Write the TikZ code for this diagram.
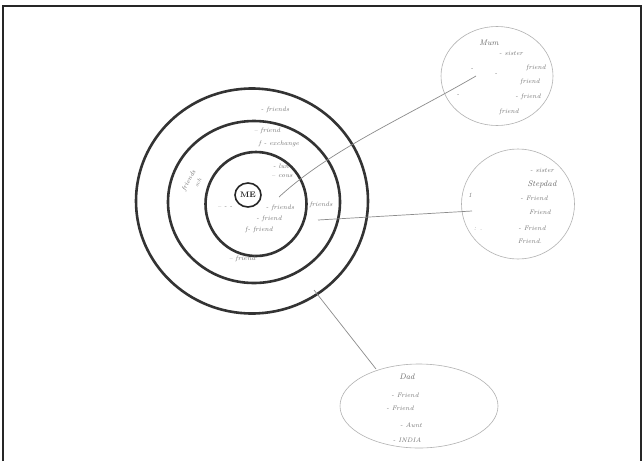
\documentclass[tikz,border=0pt]{standalone}
\usetikzlibrary{shapes.geometric}
\begin{document}
\begin{tikzpicture}[x=1pt,y=-1pt,
  ring/.style={draw=black!80, line width=2.6pt, ellipse, inner sep=0pt},
  bubble/.style={draw=black!30, line width=0.6pt, ellipse, inner sep=0pt},
  link/.style={draw=black!45, line width=0.7pt},
  hw/.style={text=black!55, font=\fontsize{6.5}{7}\selectfont\itshape, inner sep=0.5pt},
  hwb/.style={text=black!60, font=\fontsize{8}{9}\selectfont\itshape, inner sep=0.5pt}]
\useasboundingbox (0,0) rectangle (644,461);
\fill[white] (0,0) rectangle (644,461);
% frame
\draw[black!85, line width=2pt] (3,461) -- (3,6) -- (641,6) -- (641,461);
% rings
\node[ring, minimum width=232pt, minimum height=225pt] (outer) at (252,201) {};
\node[ring, minimum width=172pt, minimum height=162pt] (middle) at (254,202) {};
\node[ring, minimum width=101pt, minimum height=104pt] (inner) at (256,204) {};
\node[draw=black!85, line width=1.6pt, ellipse, minimum width=26pt, minimum height=24pt, inner sep=0pt,
      font=\fontsize{8}{9}\selectfont\bfseries, text=black!85] (me) at (248,195) {ME};
% outer bubbles
\node[bubble, minimum width=112pt, minimum height=99pt] (mum) at (497,76) {};
\node[bubble, minimum width=113pt, minimum height=110pt] (sis) at (518,204) {};
\node[bubble, minimum width=158pt, minimum height=84pt] (dad) at (419,406) {};
% connectors
\coordinate (mumS) at (279,197);
\coordinate (mumE) at (476,76);
\coordinate (sisS) at (318,220);
\coordinate (sisE) at (472,211);
\coordinate (dadS) at (314,290);
\coordinate (dadE) at (376,369);
\draw[link] (mumS) .. controls (330,150) and (400,120) .. (mumE);
\draw[link] (sisS) -- (sisE);
\draw[link] (dadS) -- (dadE);
% ring texts
\node[hw] (t1) at (275,110) {- friends};
\node[hw] (t2) at (267,131) {-- friend};
\node[hw] (t3) at (279,144) {f - exchange};
\node[hw, rotate=62] (t4) at (189,181) {friends};
\node[hw, rotate=62, font=\fontsize{5.5}{6}\selectfont\itshape] (t4b) at (198,183) {sch};
\node[hw] (t5) at (281,166) {- lun};
\node[hw] (t6) at (282,176) {-- cous};
\node[hw] (t7) at (280,208) {- friends};
\node[hw] (t8) at (321,205) {friends};
\node[hw] (t9) at (269,219) {- friend};
\node[hw] (t10) at (259,230) {f- friend};
\node[hw] (t11) at (242,259) {-- friend};
\node[hw] (t12) at (225,208) {-- - -};
% Mum texts
\node[hwb] (m0) at (489,43) {Mum};
\node[hw] (m1) at (511,53) {- sister};
\node[hw] (m2) at (536,68) {friend};
\node[hw] (m3) at (530,82) {friend};
\node[hw] (m4) at (528,97) {- friend};
\node[hw] (m5) at (509,112) {friend};
\node[hw] (md1) at (472,70) {-};
\node[hw] (md2) at (496,75) {-};
\node[hw] (md3) at (458,96) {-};
% sister texts
\node[hw] (s1) at (542,170) {- sister};
\node[hwb] (s2) at (542,184) {Stepdad};
\node[hw] (s3) at (534,198) {- Friend};
\node[hw] (s4) at (540,212) {Friend};
\node[hw] (s5) at (532,228) {- Friend};
\node[hw] (s6) at (530,241) {Friend.};
\node[hw] (sd1) at (470,195) {1};
\node[hw] (sd2) at (478,229) {: .};
% Dad texts
\node[hwb] (d0) at (407,377) {Dad};
\node[hw] (d1) at (405,395) {- Friend};
\node[hw] (d2) at (400,408) {- Friend};
\node[hw] (d3) at (411,425) {- Aunt};
\node[hw] (d4) at (407,440) {- INDIA};
\end{tikzpicture}
\end{document}
